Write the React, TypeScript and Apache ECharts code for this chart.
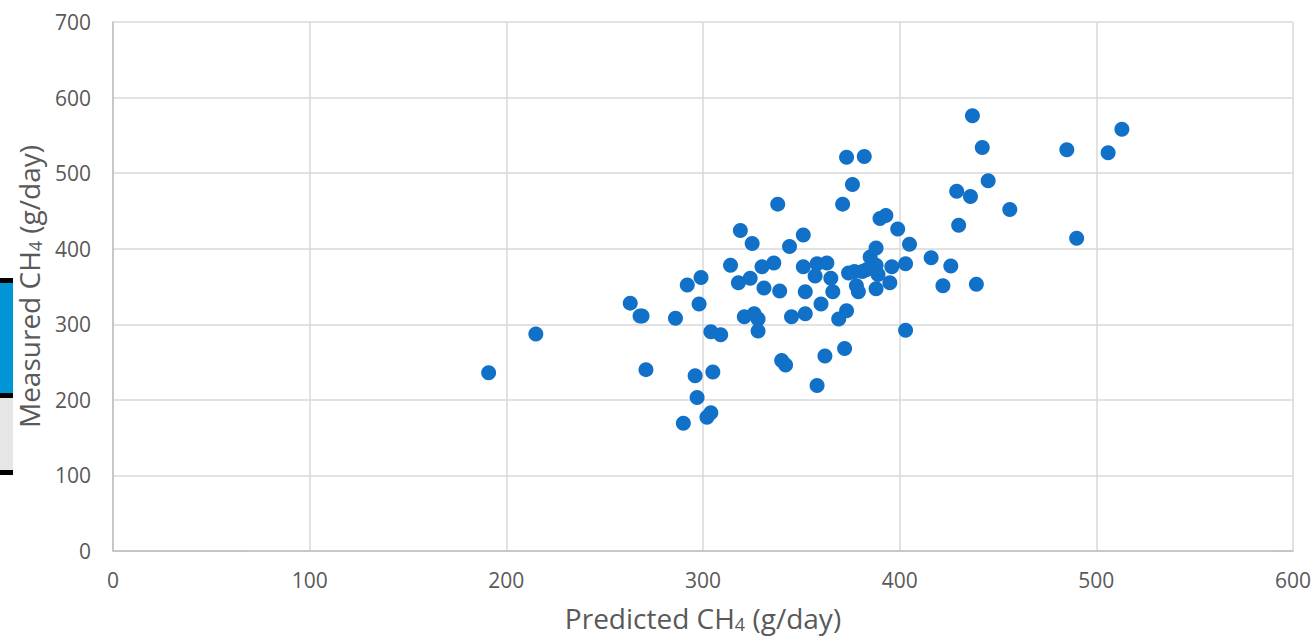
import React, { useEffect, useRef } from "react";
import * as echarts from "echarts";

const predicted: number[] = [
  191, 215, 263, 269, 268, 271, 286, 292, 299, 298, 296, 297, 290, 302, 304, 304, 305, 309,
  314, 319, 318, 321, 324, 325, 326, 328, 328, 330, 331, 336, 338, 339, 340, 342, 344, 345,
  351, 351, 352, 352, 358, 357, 358, 360, 362, 363, 365, 366, 369, 372, 371, 373, 373, 374,
  376, 377, 378, 379, 381, 382, 383, 385, 388, 388, 388, 389, 390, 393, 395, 396, 399, 403,
  403, 405, 416, 422, 426, 429, 430, 436, 437, 439, 442, 445, 456, 485, 490, 506, 513,
];
const measured: number[] = [
  236, 287, 328, 311, 311, 240, 308, 352, 362, 327, 232, 203, 169, 177, 183, 290, 237, 286,
  378, 424, 355, 310, 361, 407, 314, 307, 291, 376, 348, 381, 459, 344, 252, 246, 403, 310,
  418, 376, 343, 314, 219, 364, 380, 327, 258, 381, 361, 343, 307, 268, 459, 521, 318, 368,
  485, 370, 351, 343, 370, 522, 372, 389, 401, 378, 347, 366, 440, 444, 355, 376, 426, 292,
  380, 406, 388, 351, 377, 476, 431, 469, 576, 353, 534, 490, 452, 531, 414, 527, 558,
];
const xTicks = { min: 0, max: 600, interval: 100 };
const yTicks = { min: 0, max: 700, interval: 100 };

export default function App() {
  const ref = useRef<HTMLDivElement>(null);
  useEffect(() => {
    if (!ref.current) return;
    const chart = echarts.init(ref.current, undefined, { renderer: "svg" });
    const font = "Open Sans";
    const gray = "#595959";
    const rich = {
      sub: { fontSize: 18, fontFamily: font, color: gray, verticalAlign: "bottom", padding: [12, 0, 0, 0] },
    };
    chart.setOption({
      animation: false,
      backgroundColor: "#ffffff",
      grid: { left: 113, right: 22, top: 22, bottom: 85 },
      xAxis: {
        type: "value",
        min: xTicks.min,
        max: xTicks.max,
        interval: xTicks.interval,
        name: "Predicted CH{sub|4} (g/day)",
        nameLocation: "middle",
        nameGap: 52,
        nameTextStyle: { fontSize: 28, fontFamily: font, color: gray, rich },
        axisLine: { show: true, lineStyle: { color: "#bfbfbf", width: 1.5 } },
        axisTick: { show: false },
        axisLabel: { fontSize: 21, fontFamily: font, color: gray, margin: 18 },
        splitLine: { show: true, lineStyle: { color: "#d9d9d9", width: 1.5 } },
      },
      yAxis: {
        type: "value",
        min: yTicks.min,
        max: yTicks.max,
        interval: yTicks.interval,
        name: "Measured CH{sub|4} (g/day)",
        nameLocation: "middle",
        nameGap: 66,
        nameTextStyle: { fontSize: 28, fontFamily: font, color: gray, rich },
        axisLine: { show: true, lineStyle: { color: "#bfbfbf", width: 1.5 } },
        axisTick: { show: false },
        axisLabel: { fontSize: 21, fontFamily: font, color: gray, margin: 22 },
        splitLine: { show: true, lineStyle: { color: "#d9d9d9", width: 1.5 } },
      },
      series: [
        {
          type: "scatter",
          symbol: "circle",
          symbolSize: 15,
          itemStyle: { color: "#1170C7", opacity: 1 },
          data: predicted.map((p, i) => [p, measured[i]]),
        },
      ],
      graphic: [
        { type: "rect", shape: { x: 0, y: 278, width: 13, height: 117 }, style: { fill: "#0096D6" } },
        { type: "rect", shape: { x: 0, y: 395, width: 13, height: 78 }, style: { fill: "#e6e6e6" } },
        { type: "rect", shape: { x: 0, y: 278, width: 13, height: 5 }, style: { fill: "#000000" } },
        { type: "rect", shape: { x: 0, y: 393, width: 13, height: 5 }, style: { fill: "#000000" } },
        { type: "rect", shape: { x: 0, y: 470, width: 13, height: 5 }, style: { fill: "#000000" } },
      ],
    });
    return () => chart.dispose();
  }, []);
  return (
    <div
      ref={ref}
      style={{ position: "fixed", left: 0, top: 0, width: 1315, height: 638 }}
    />
  );
}
